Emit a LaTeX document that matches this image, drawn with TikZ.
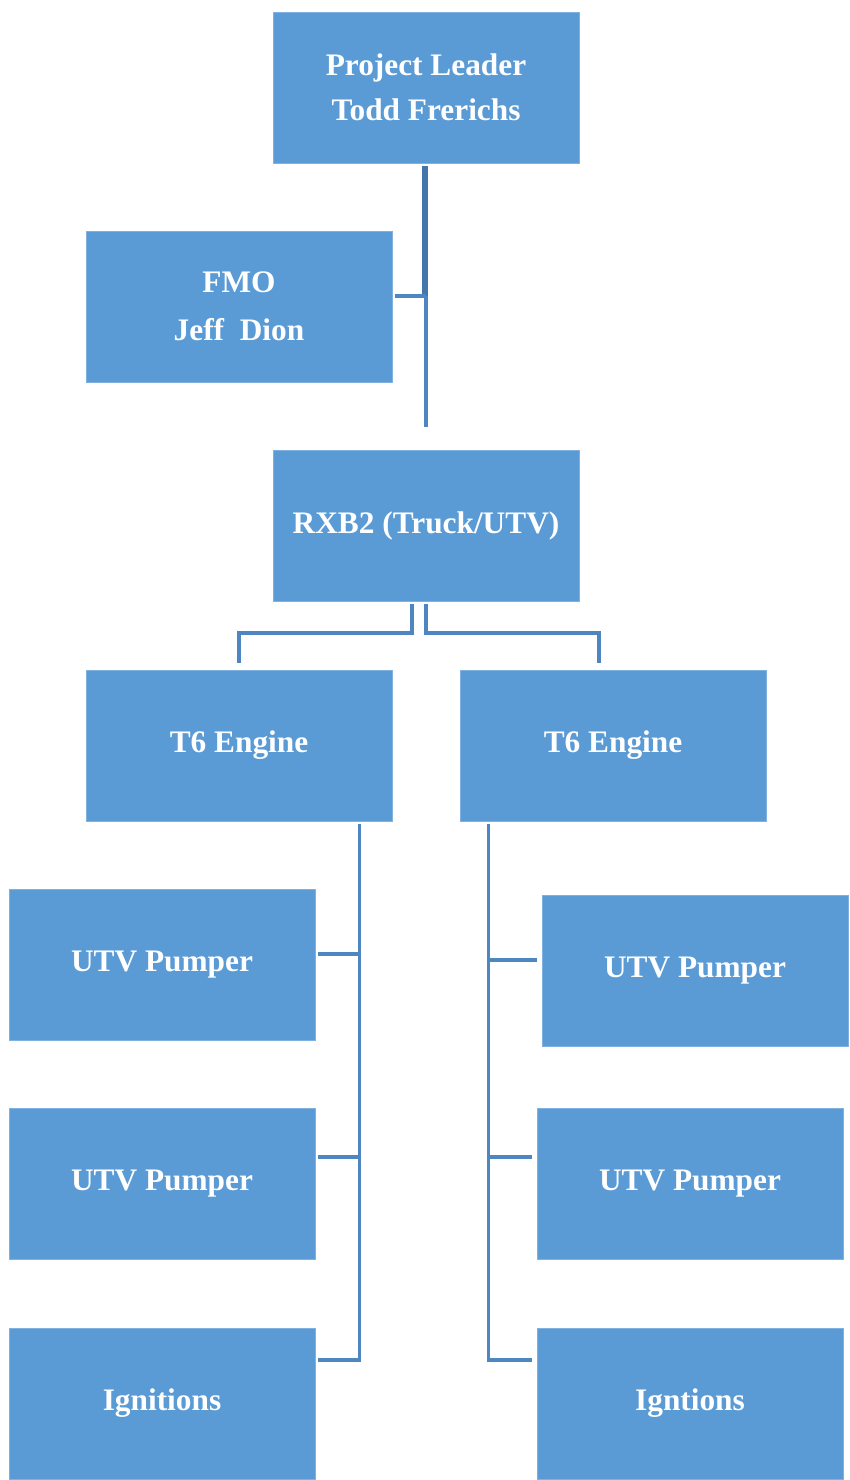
\documentclass[tikz,border=0pt]{standalone}
\usepackage{fontspec}
\setmainfont{Liberation Serif}
\definecolor{boxfill}{HTML}{5B9BD5}
\definecolor{boxedge}{HTML}{7FB2E0}
\definecolor{conn}{HTML}{4E86C2}
\definecolor{connd}{HTML}{4377AC}
\begin{document}
\begin{tikzpicture}[x=0.75pt,y=-0.75pt,
  orgbox/.style={rectangle, fill=boxfill, draw=boxedge, line width=0.6pt,
    minimum width=306*0.75pt, minimum height=151*0.75pt, inner sep=0pt,
    text=white, align=center, font=\fontsize{23.5}{34}\selectfont\bfseries},
  link/.style={draw=conn, line width=2.3pt},
  linkthick/.style={draw=connd, line width=3.8pt}]
\useasboundingbox (0,0) rectangle (849,1480);
\node[orgbox] (pl) at (426,87.5) {Project Leader\\Todd Frerichs};
\node[orgbox] (fmo) at (239,306.5) {FMO\\[2pt]Jeff\ \ Dion};
\node[orgbox] (rxb) at (426,525.5) {RXB2 (Truck/UTV)};
\node[orgbox] (t6l) at (239,745.5) {T6 Engine};
\node[orgbox] (t6r) at (613,745.5) {T6 Engine};
\node[orgbox] (ul1) at (162,964.5) {UTV Pumper};
\node[orgbox] (ul2) at (162,1184) {UTV Pumper};
\node[orgbox] (ig1) at (162,1403.5) {Ignitions};
\node[orgbox] (ur1) at (695,970.5) {UTV Pumper};
\node[orgbox] (ur2) at (690,1184) {UTV Pumper};
\node[orgbox] (ig2) at (690,1403.5) {Igntions};
% top trunk
\coordinate (pltop) at ([yshift=-3*0.75pt]pl.south);
\coordinate (junc) at (pltop |- 0,296);
\coordinate (trunkend) at (pltop |- 0,427);
\draw[linkthick] ([xshift=-1*0.75pt]pltop) -- ([xshift=-1*0.75pt]junc);
\draw[link] (junc) -- (trunkend);
\draw[link] ([xshift=3*0.75pt]fmo.east |- junc) -- (junc);
% RXB2 to T6
\coordinate (rl) at ([xshift=-14*0.75pt,yshift=-3*0.75pt]rxb.south);
\coordinate (rr) at ([yshift=-3*0.75pt]rxb.south);
\draw[link] (rl) -- (rl |- 0,633) -| ([yshift=7*0.75pt]t6l.north);
\draw[link] (rr) -- (rr |- 0,633) -| ([xshift=-14*0.75pt,yshift=7*0.75pt]t6r.north);
% left T6 children
\coordinate (lt) at ([xshift=-33*0.75pt,yshift=-3*0.75pt]t6l.south east);
\draw[link] (lt) -- (lt |- 0,1360) -- ([xshift=3*0.75pt]ig1.east |- 0,1360);
\draw[link] ([xshift=3*0.75pt]ul1.east |- 0,954) -- (lt |- 0,954);
\draw[link] ([xshift=3*0.75pt]ul2.east |- 0,1157) -- (lt |- 0,1157);
% right T6 children
\coordinate (rt) at ([xshift=29*0.75pt,yshift=-3*0.75pt]t6r.south west);
\draw[link] (rt) -- (rt |- 0,1360) -- ([xshift=-5*0.75pt]ig2.west |- 0,1360);
\draw[link] (rt |- 0,960) -- ([xshift=-5*0.75pt]ur1.west |- 0,960);
\draw[link] (rt |- 0,1157) -- ([xshift=-5*0.75pt]ur2.west |- 0,1157);
\end{tikzpicture}
\end{document}
